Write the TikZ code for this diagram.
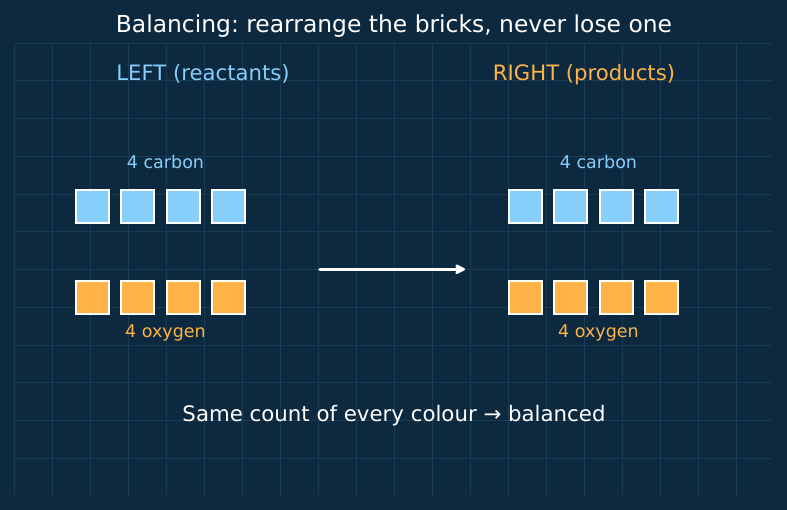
\documentclass[tikz,border=0pt]{standalone}
\usepackage{fontspec}
\setmainfont{DejaVu Sans}
\usetikzlibrary{arrows.meta}
\definecolor{bgc}{HTML}{0C2940}
\definecolor{gridc}{HTML}{1B3B53}
\definecolor{bluec}{HTML}{87CEFA}
\definecolor{orangec}{HTML}{FFB347}
\frenchspacing
\tikzset{
  brick/.style={draw=white, line width=2pt, minimum size=33pt, inner sep=0pt},
  cbrick/.style={brick, fill=bluec},
  obrick/.style={brick, fill=orangec},
  gridline/.style={draw=gridc, line width=0.8pt},
  lbl/.style={inner sep=0pt, anchor=base},
}
\begin{document}
\begin{tikzpicture}[x=1pt,y=-1pt]
\fill[bgc] (0,0) rectangle (787,510);
\useasboundingbox (0,0) rectangle (787,510);
% grid
\foreach \k in {0,...,19} {
  \draw[gridline] ({14.5+38*\k},43) -- ({14.5+38*\k},495);
}
\foreach \k in {0,...,11} {
  \draw[gridline] (14,{43+37.75*\k}) -- (772,{43+37.75*\k});
}
% texts
\node[lbl, text=white, font=\fontsize{23.4}{26}\selectfont] (title) at (394,32.3) {Balancing: rearrange the bricks, never lose one};
\node[lbl, text=bluec, font=\fontsize{21.2}{24}\selectfont] (lefth) at (203,80.5) {LEFT (reactants)};
\node[lbl, text=orangec, font=\fontsize{21.2}{24}\selectfont] (righth) at (584,80.5) {RIGHT (products)};
\node[lbl, text=bluec, font=\fontsize{17.5}{20}\selectfont] (lc) at (165.5,168.3) {4 carbon};
\node[lbl, text=bluec, font=\fontsize{17.5}{20}\selectfont] (rc) at (598.5,168.3) {4 carbon};
\node[lbl, text=orangec, font=\fontsize{17.5}{20}\selectfont] (lo) at (165.5,338) {4 oxygen};
\node[lbl, text=orangec, font=\fontsize{17.5}{20}\selectfont] (ro) at (598.5,338) {4 oxygen};
\node[lbl, text=white, font=\fontsize{21.3}{24}\selectfont] (summary) at (394,421) {Same count of every colour → balanced};
% bricks
\foreach \x [count=\i] in {92,137.5,183,228.5} {
  \node[cbrick] (lcb\i) at (\x,207) {};
  \node[obrick] (lob\i) at (\x,298) {};
}
\foreach \x [count=\i] in {525,570.3,616,661.5} {
  \node[cbrick] (rcb\i) at (\x,207) {};
  \node[obrick] (rob\i) at (\x,298) {};
}
% arrow
\coordinate (arrS) at (320,269.3);
\coordinate (arrE) at (465,269.3);
\draw[white, line width=3.5pt, line cap=round, -{Stealth[length=12pt,width=12pt,inset=2.5pt,round]}] (arrS) -- (arrE);
\end{tikzpicture}
\end{document}
